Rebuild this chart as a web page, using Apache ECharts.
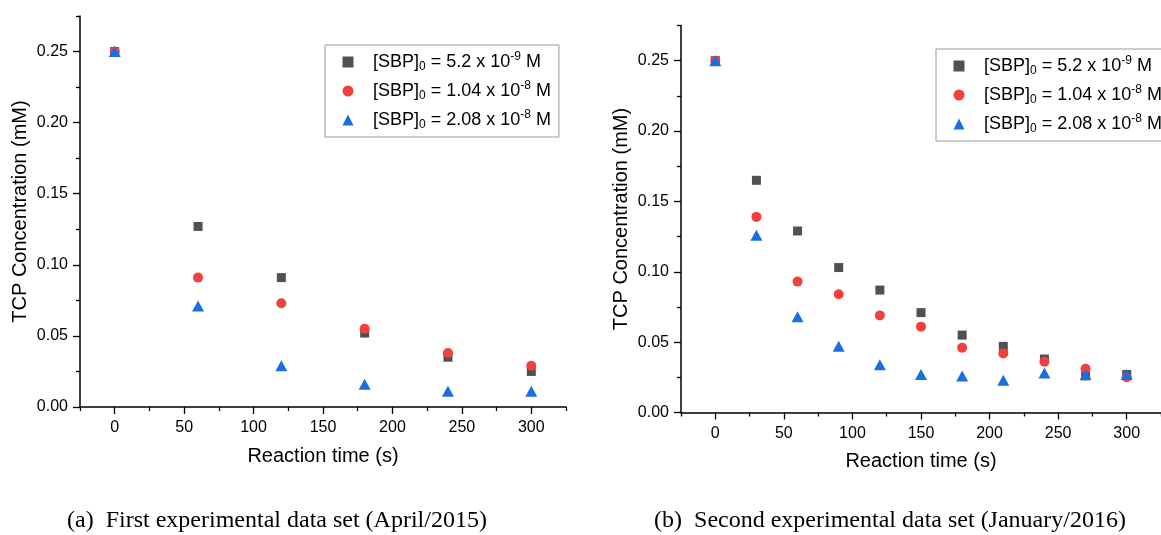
<!DOCTYPE html>
<html>
<head>
<meta charset="utf-8">
<script src="https://cdn.jsdelivr.net/npm/echarts@6/dist/echarts.min.js"></script>
<style>html,body{margin:0;padding:0;background:#fff}#c{width:1161px;height:535px}</style>
</head>
<body>
<div id="c"></div>
<script>
// ---- data ----
const timeA = [0, 60, 120, 180, 240, 300];
const a1 = [0.250, 0.127, 0.091, 0.052, 0.035, 0.025];
const a2 = [0.250, 0.091, 0.073, 0.055, 0.038, 0.029];
const a3 = [0.250, 0.071, 0.029, 0.016, 0.011, 0.011];

const timeB = [0, 30, 60, 90, 120, 150, 180, 210, 240, 270, 300];
const b1 = [0.250, 0.165, 0.129, 0.103, 0.087, 0.071, 0.055, 0.047, 0.038, 0.026, 0.027];
const b2 = [0.250, 0.139, 0.093, 0.084, 0.069, 0.061, 0.046, 0.042, 0.036, 0.031, 0.025];
const b3 = [0.250, 0.126, 0.068, 0.047, 0.034, 0.027, 0.026, 0.023, 0.028, 0.027, 0.027];

const concMantissa = ['5.2 x 10', '1.04 x 10', '2.08 x 10'];
const concExponent = ['-9', '-8', '-8'];

const xTicks = [0, 50, 100, 150, 200, 250, 300];
const xMinorTicks = [-25, 25, 75, 125, 175, 225, 275, 325];
const yTicks = [0, 0.05, 0.10, 0.15, 0.20, 0.25];
const yMinorTicks = [0.025, 0.075, 0.125, 0.175, 0.225, 0.275];

const xName = 'Reaction time (s)';
const yName = 'TCP Concentration (mM)';
const captions = ['(a)  First experimental data set (April/2015)', '(b)  Second experimental data set (January/2016)'];

// ---- styling ----
const colors = ['#515151', '#F14040', '#1A6FDF'];
const symbols = ['rect', 'circle', 'triangle'];
const symSizes = [9, 10, [12, 11]];
const SANS = '"Liberation Sans", Arial, sans-serif';

function pair(t, v) { return t.map((x, i) => [x, v[i]]); }

const grids = [
  { left: 80, top: 16, width: 486, height: 391 },
  { left: 681, top: 25.5, width: 483, height: 387 }
];

const xAxes = [], yAxes = [];
grids.forEach((g, gi) => {
  xAxes.push({
    type: 'value', gridIndex: gi, min: -25, max: 325, position: 'bottom',
    name: xName, nameLocation: 'middle', nameGap: 39,
    nameTextStyle: { fontFamily: SANS, fontSize: 20, color: '#000' },
    axisLine: { show: true, onZero: false, lineStyle: { color: '#000', width: 1.5 } },
    axisTick: { show: true, length: 7, customValues: xTicks, lineStyle: { color: '#000', width: 1.3 } },
    axisLabel: { customValues: xTicks, margin: 13, fontFamily: SANS, fontSize: 16, color: '#000' },
    splitLine: { show: false }
  });
  xAxes.push({
    type: 'value', gridIndex: gi, min: -25, max: 325, position: 'bottom', offset: 0,
    axisLine: { show: false, onZero: false },
    axisTick: { show: true, length: 4, customValues: xMinorTicks, lineStyle: { color: '#000', width: 1.3 } },
    axisLabel: { show: false },
    splitLine: { show: false }
  });
  yAxes.push({
    type: 'value', gridIndex: gi, min: 0, max: 0.275, position: 'left',
    name: yName, nameLocation: 'middle', nameGap: 50,
    nameTextStyle: { fontFamily: SANS, fontSize: 20, color: '#000' },
    axisLine: { show: true, onZero: false, lineStyle: { color: '#000', width: 1.5 } },
    axisTick: { show: true, length: 7, customValues: yTicks, lineStyle: { color: '#000', width: 1.3 } },
    axisLabel: { customValues: yTicks, margin: 12, fontFamily: SANS, fontSize: 16, color: '#000',
      formatter: v => Number(v).toFixed(2) },
    splitLine: { show: false }
  });
  yAxes.push({
    type: 'value', gridIndex: gi, min: 0, max: 0.275, position: 'left', offset: 0,
    axisLine: { show: false, onZero: false },
    axisTick: { show: true, length: 4, customValues: yMinorTicks, lineStyle: { color: '#000', width: 1.3 } },
    axisLabel: { show: false },
    splitLine: { show: false }
  });
});

const setA = [a1, a2, a3], setB = [b1, b2, b3];
const series = [];
setA.forEach((v, i) => series.push({
  name: 'A' + i, type: 'scatter', xAxisIndex: 0, yAxisIndex: 0,
  data: pair(timeA, v), symbol: symbols[i], symbolSize: symSizes[i],
  itemStyle: { color: colors[i], opacity: 1 }, emphasis: { disabled: true }
}));
setB.forEach((v, i) => series.push({
  name: 'B' + i, type: 'scatter', xAxisIndex: 2, yAxisIndex: 2,
  data: pair(timeB, v), symbol: symbols[i], symbolSize: symSizes[i],
  itemStyle: { color: colors[i], opacity: 1 }, emphasis: { disabled: true }
}));

function legendFmt(name) {
  const i = Number(name.slice(1));
  return '{g| }{t|[SBP]}{s|0}{t| = ' + concMantissa[i] + '}{p|' + concExponent[i] + '}{t| M}';
}
const rich = {
  g: { width: 14.5, fontSize: 18, lineHeight: 22 },
  t: { fontFamily: SANS, fontSize: 18, color: '#000', lineHeight: 22 },
  s: { fontFamily: SANS, fontSize: 12, color: '#000', lineHeight: 12, verticalAlign: 'bottom' },
  p: { fontFamily: SANS, fontSize: 12, color: '#000', lineHeight: 12, verticalAlign: 'top' }
};
function legendOf(names, left, top) {
  return {
    data: names, left: left, top: top, orient: 'vertical',
    itemWidth: 11, itemHeight: 11, itemGap: 7,
    padding: [6, 8, 6, 17.5],
    borderColor: '#9a9a9a', borderWidth: 1, backgroundColor: '#fff',
    formatter: legendFmt, selectedMode: false,
    textStyle: { rich: rich }
  };
}

const chart = echarts.init(document.getElementById('c'), null, { renderer: 'canvas' });
chart.setOption({
  animation: false,
  backgroundColor: '#fff',
  grid: grids,
  xAxis: xAxes,
  yAxis: yAxes,
  legend: [legendOf(['A0', 'A1', 'A2'], 325, 45), legendOf(['B0', 'B1', 'B2'], 936, 49)],
  series: series,
  graphic: [
    { type: 'text', x: 277, y: 521, style: { text: captions[0], textAlign: 'center', textVerticalAlign: 'middle',
      font: '24px "Liberation Serif", "Times New Roman", serif', fill: '#000' } },
    { type: 'text', x: 890, y: 521, style: { text: captions[1], textAlign: 'center', textVerticalAlign: 'middle',
      font: '24px "Liberation Serif", "Times New Roman", serif', fill: '#000' } }
  ]
});
</script>
</body>
</html>
